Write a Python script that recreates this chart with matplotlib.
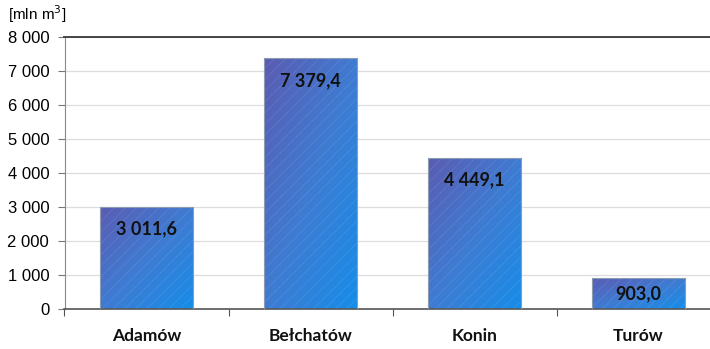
import numpy as np
import matplotlib.pyplot as plt
from matplotlib.colors import LinearSegmentedColormap

# zasoby węgla brunatnego wg zagłębia [mln m3]
zaglebia = ['Adamów', 'Bełchatów', 'Konin', 'Turów']
zasoby = [3011.6, 7379.4, 4449.1, 903.0]
etykiety = ['3 011,6', '7 379,4', '4 449,1', '903,0']
y_ticks = [0, 1000, 2000, 3000, 4000, 5000, 6000, 7000, 8000]

plt.rcParams['hatch.linewidth'] = 0.6

fig = plt.figure(figsize=(7.1, 3.49), dpi=100)
ax = fig.add_axes([64.5 / 710, 40 / 349, 656 / 710, 272 / 349])

x = np.arange(len(zaglebia))
w = 0.57
cmap = LinearSegmentedColormap.from_list('grad', ['#5a5cb2', '#3f7bd2', '#168de8'])

bars = ax.bar(x, zasoby, width=w, color='none', edgecolor='#8c9bb0', linewidth=0.8, zorder=3)
for b in bars:
    x0, y0 = b.get_x(), b.get_y()
    bw, bh = b.get_width(), b.get_height()
    # gradient od lewego górnego do prawego dolnego rogu
    gx, gy = np.meshgrid(np.linspace(0, 1, 60), np.linspace(1, 0, 60))
    grad = (gx + (1 - gy)) / 2
    im = ax.imshow(grad, cmap=cmap, extent=[x0, x0 + bw, y0, y0 + bh],
                   origin='upper', aspect='auto', zorder=2)
    im.set_clip_path(b)

# delikatne kreskowanie na słupkach
ax.bar(x, zasoby, width=w, color='none', edgecolor=(1, 1, 1, 0.1),
       linewidth=0, hatch='///', zorder=2.5)

for xi, val, lab in zip(x, zasoby, etykiety):
    ax.text(xi, max(val - 660, val / 2), lab, ha='center', va='center', fontsize=13,
            family='Lato', fontweight='bold', color='#111111', zorder=4)

ax.set_xlim(-0.5, len(zaglebia) - 0.5)
ax.set_ylim(0, 8000)
ax.set_yticks(y_ticks)
ax.set_yticklabels([f'{v:,}'.replace(',', ' ') for v in y_ticks],
                   family='Liberation Sans', fontsize=12)
ax.yaxis.grid(True, color='#dddddd', linewidth=0.9, zorder=0)
ax.set_axisbelow(True)

ax.set_xticks(np.arange(len(zaglebia) + 1) - 0.5)
ax.set_xticklabels([])
ax.tick_params(axis='x', length=5, color='#555555')
ax.tick_params(axis='y', length=5, color='#777777', pad=6)
for xi, name in zip(x, zaglebia):
    ax.text(xi, -0.1, name, transform=ax.get_xaxis_transform(), ha='center', va='center',
            fontsize=12.5, fontweight='bold', family='Lato', color='#111111')

ax.spines['left'].set_color('#888888')
ax.spines['bottom'].set_color('#555555')
ax.spines['bottom'].set_linewidth(1.2)
ax.spines['top'].set_color('#444444')
ax.spines['top'].set_linewidth(1.4)
ax.spines['right'].set_visible(False)

fig.text(8 / 710, 1 - 14 / 349, '[mln m$^3$]', ha='left', va='center',
         fontsize=11, family='Liberation Sans')

fig.savefig('out.png', dpi=100)
